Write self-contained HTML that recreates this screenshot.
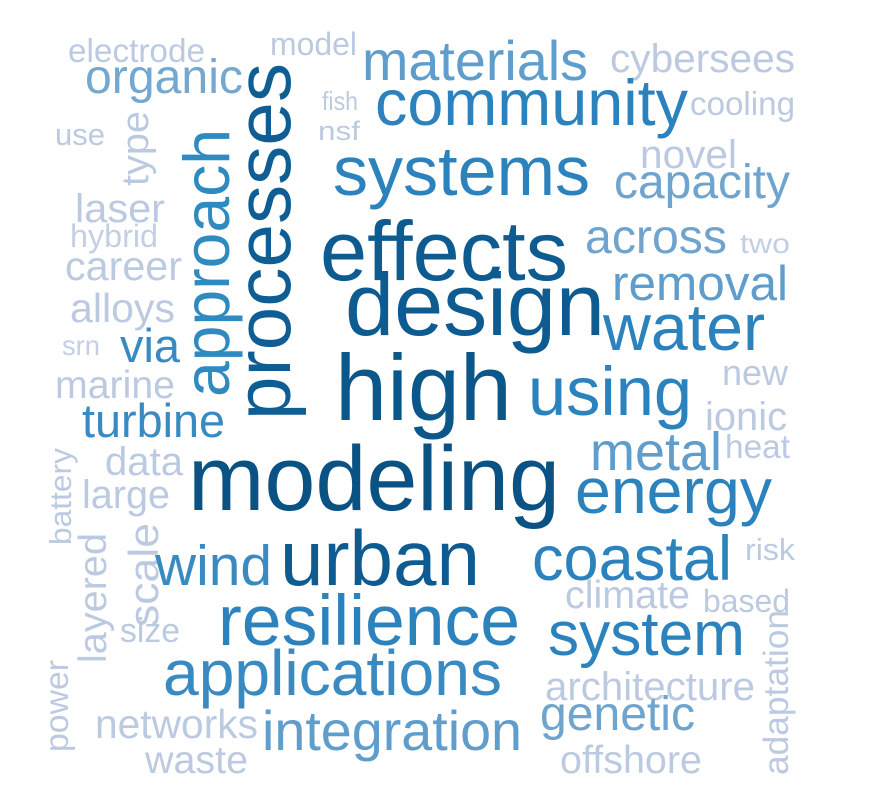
<!DOCTYPE html>
<html><head><meta charset="utf-8"><style>
html,body{margin:0;padding:0;background:#fff;}
svg{display:block;font-family:"Liberation Sans",Arial,sans-serif;}
</style></head><body>
<svg width="885" height="785" viewBox="0 0 885 785">
<g id="words"></g>
</svg>
<script>
// word, x, baseline y, font size, color, rotated (vertical)
const words = ["electrode","model","materials","cybersees","organic","processes","fish","community","cooling","use","type","nsf","approach","systems","novel","capacity","laser","effects","across","hybrid","two","career","removal","design","alloys","water","srn","via","high","using","new","marine","ionic","turbine","metal","heat","battery","data","modeling","energy","large","scale","layered","wind","urban","coastal","risk","climate","based","size","resilience","system","adaptation","power","applications","architecture","genetic","networks","integration","waste","offshore"];
const xs = [68,270,362,610,85,290,322,375,690,55,148,318,229,333,640,614,75,320,585,70,740,65,612,345,70,603,62,120,335,528,722,55,705,82,590,725,71,105,188,575,82,158,106,155,280,532,745,565,703,120,218,548,788,68,163,545,540,95,262,145,560];
const ys = [62,55,80,72,93,420,110,125,115,145,186,140,397,195,168,198,222,280,253,247,253,280,300,335,322,350,355,362,420,415,385,398,430,437,470,458,545,475,510,513,508,627,663,585,585,580,560,608,612,642,645,655,775,752,695,700,730,738,750,773,773];
const widths = [137,87,226,185,158,357,36,313,105,50,75,42,268,257,97,176,90,248,142,88,50,117,176,260,105,162,38,60,177,164,66,120,82,143,132,65,97,78,372,197,88,104,130,117,200,200,50,125,87,60,302,197,165,92,339,210,155,163,260,103,142];
const sizes = [33,32,56,40,48,78,26,65,33,31,38,27,65,70,40,48,40,84,48,32,28,41,49,88,41,66,28,47,94,69,36,39,40,47,54,33,31,40,92,64,40,42,39,57,78,63,31,39,32,34,71,62,35,33,64,40,48,41,56,39,39];
const colors = ["#bccae1","#bccae1","#5e9dcc","#bccae1","#74a8d0","#0e5d93","#bccae1","#2b82bc","#bccae1","#bccae1","#bccae1","#bccae1","#2f8ac0","#2b82bc","#bccae1","#6fa4cf","#bccae1","#0d5b90","#6fa4cf","#c2cfe4","#c2cfe4","#bccae1","#5e9dcc","#0d5b90","#bccae1","#2b82bc","#c2cfe4","#3a8ac2","#0b5789","#2b82bc","#bccae1","#bccae1","#bccae1","#3a8ac2","#5e9dcc","#bccae1","#bccae1","#bccae1","#0a5283","#2b82bc","#bccae1","#bccae1","#bccae1","#3a8ac2","#0d5b90","#2b82bc","#bccae1","#bccae1","#bccae1","#bccae1","#2b82bc","#2b82bc","#bccae1","#bccae1","#3a8ac2","#bccae1","#6fa4cf","#bccae1","#5e9dcc","#bccae1","#bccae1"];
const vertical = ["processes","type","approach","battery","scale","layered","adaptation","power"];

const g = document.getElementById('words');
const NS = "http://www.w3.org/2000/svg";
words.forEach((w,i)=>{
  const t = document.createElementNS(NS,'text');
  t.setAttribute('x', xs[i]);
  t.setAttribute('y', ys[i]);
  t.setAttribute('font-size', sizes[i]);
  t.setAttribute('fill', colors[i]);
  t.setAttribute('textLength', widths[i]);
  t.setAttribute('lengthAdjust', 'spacingAndGlyphs');
  if (vertical.includes(w)) {
    t.setAttribute('transform', 'rotate(-90 ' + xs[i] + ' ' + ys[i] + ')');
  }
  
  
  t.textContent = w;
  g.appendChild(t);
});
</script>
</body></html>
